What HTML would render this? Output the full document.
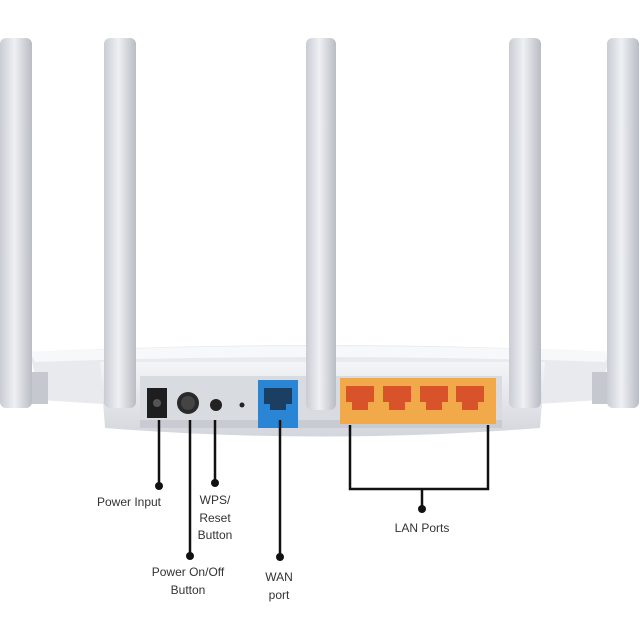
<!DOCTYPE html>
<html><head><meta charset="utf-8"><style>
html,body{margin:0;padding:0;background:#fff;width:640px;height:640px;overflow:hidden}
text{font-family:"Liberation Sans",sans-serif;font-size:12px;fill:#333}
</style></head><body>
<svg width="640" height="640" viewBox="0 0 640 640" xmlns="http://www.w3.org/2000/svg">
<defs>
<linearGradient id="ant" x1="0" x2="1"><stop offset="0" stop-color="#c9ccd3"/><stop offset="0.45" stop-color="#eef0f3"/><stop offset="1" stop-color="#b9bcc4"/></linearGradient>
<linearGradient id="body" x1="0" y1="0" x2="0" y2="1"><stop offset="0" stop-color="#f4f5f7"/><stop offset="1" stop-color="#d3d6dc"/></linearGradient>
</defs>
<rect width="640" height="640" fill="#fff"/>
<!-- top wing -->
<path d="M30 352 Q320 338 610 352 L600 400 Q320 420 40 400 Z" fill="#e8eaee"/>
<path d="M30 352 Q320 340 610 352 L605 362 Q320 352 35 362 Z" fill="#f7f8fa"/>
<!-- side brackets -->
<rect x="28" y="372" width="20" height="32" fill="#c5c8cf"/>
<rect x="592" y="372" width="20" height="32" fill="#c5c8cf"/>
<!-- main body -->
<path d="M100 362 L545 362 L540 428 Q320 445 105 428 Z" fill="url(#body)"/>
<rect x="140" y="376" width="362" height="52" fill="#d8dbe0"/>
<rect x="140" y="420" width="362" height="8" fill="#c8ccd2"/>
<!-- antennas -->
<rect x="0" y="38" width="32" height="370" rx="6" fill="url(#ant)"/>
<rect x="104" y="38" width="32" height="370" rx="6" fill="url(#ant)"/>
<rect x="306" y="38" width="30" height="372" rx="6" fill="url(#ant)"/>
<rect x="509" y="38" width="32" height="370" rx="6" fill="url(#ant)"/>
<rect x="607" y="38" width="32" height="370" rx="6" fill="url(#ant)"/>
<!-- ports -->
<rect x="147" y="388" width="20" height="30" fill="#1e1e1e"/>
<circle cx="157" cy="403" r="4" fill="#555"/>
<circle cx="188" cy="403" r="11" fill="#2a2a2a"/>
<circle cx="188" cy="403" r="7" fill="#444"/>
<circle cx="216" cy="405" r="6" fill="#222"/>
<circle cx="242" cy="405" r="2.5" fill="#222"/>
<rect x="258" y="380" width="40" height="48" fill="#2a86d4"/>
<path d="M264 388 H292 V404 H286 V410 H270 V404 H264 Z" fill="#1b3f63"/>
<rect x="340" y="378" width="156" height="46" fill="#f2a94a"/>
<g fill="#d9532a">
<path d="M346 386 H374 V402 H368 V410 H352 V402 H346 Z"/>
<path d="M383 386 H411 V402 H405 V410 H389 V402 H383 Z"/>
<path d="M420 386 H448 V402 H442 V410 H426 V402 H420 Z"/>
<path d="M456 386 H484 V402 H478 V410 H462 V402 H456 Z"/>
</g>
<!-- connectors -->
<g stroke="#111" stroke-width="2.5" fill="none">
<line x1="159" y1="420" x2="159" y2="486"/>
<line x1="190" y1="420" x2="190" y2="556"/>
<line x1="215" y1="420" x2="215" y2="483"/>
<line x1="280" y1="420" x2="280" y2="557"/>
<path d="M350 425 V489 H488 V425"/>
<line x1="422" y1="489" x2="422" y2="509"/>
</g>
<g fill="#111">
<circle cx="159" cy="486" r="4"/><circle cx="190" cy="556" r="4"/>
<circle cx="215" cy="483" r="4"/><circle cx="280" cy="557" r="4"/>
<circle cx="422" cy="509" r="4"/>
</g>
<g text-anchor="middle">
<text x="129" y="506">Power Input</text>
<text x="215" y="504">WPS/</text>
<text x="215" y="522">Reset</text>
<text x="215" y="539">Button</text>
<text x="188" y="576">Power On/Off</text>
<text x="188" y="594">Button</text>
<text x="279" y="581">WAN</text>
<text x="279" y="599">port</text>
<text x="422" y="532">LAN Ports</text>
</g>
</svg>
</body></html>
